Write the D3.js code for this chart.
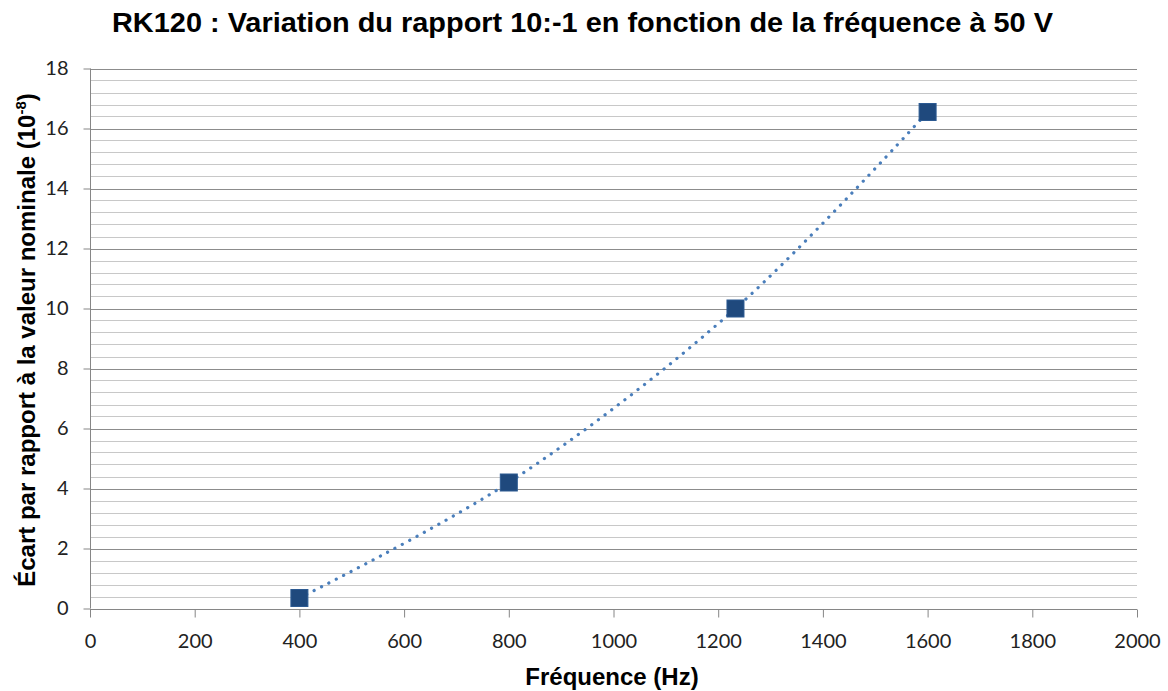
<!DOCTYPE html>
<html><head><meta charset="utf-8">
<script src="https://cdn.jsdelivr.net/npm/d3@7"></script>
<style>body{margin:0;background:#fff}</style>
</head><body>
<svg id="c" width="1168" height="691"></svg>
<script>
const freq = [400, 800, 1233, 1600];
const ecart = [0.35, 4.2, 10.0, 16.55];
const xTicks = [0,200,400,600,800,1000,1200,1400,1600,1800,2000];
const yTicks = [0,2,4,6,8,10,12,14,16,18];
const title = "RK120 : Variation du rapport 10:-1 en fonction de la fréquence à 50 V";
const xTitle = "Fréquence (Hz)";

const svg = d3.select("#c");
const m = {l:90, r:1137, t:68.5, b:608.5};
const x = d3.scaleLinear().domain([0,2000]).range([m.l, m.r]);
const y = d3.scaleLinear().domain([0,18]).range([m.b, m.t]);

// minor grid
const minor = d3.range(0, 18.001, 0.4).filter(v => Math.abs(v/2 - Math.round(v/2)) > 1e-6);
svg.append("g").selectAll("line").data(minor).join("line")
  .attr("x1", m.l).attr("x2", m.r)
  .attr("y1", d => Math.round(y(d))+0.5).attr("y2", d => Math.round(y(d))+0.5)
  .attr("stroke", "#c8c8c8").attr("stroke-width", 1);
// major grid
svg.append("g").selectAll("line").data(yTicks.filter(d=>d>0)).join("line")
  .attr("x1", m.l).attr("x2", m.r)
  .attr("y1", d => Math.round(y(d))+0.5).attr("y2", d => Math.round(y(d))+0.5)
  .attr("stroke", "#8c8c8c").attr("stroke-width", 1);

// axes
const font = "Lato, 'Open Sans', sans-serif";
const xa = svg.append("g").attr("transform", `translate(0,${Math.round(m.b)+0.5})`)
  .call(d3.axisBottom(x).tickValues(xTicks).tickSize(8).tickPadding(16).tickFormat(d3.format("d")));
const ya = svg.append("g").attr("transform", `translate(${m.l+0.5},0)`)
  .call(d3.axisLeft(y).tickValues(yTicks).tickSize(7).tickPadding(15).tickFormat(d3.format("d")));
[xa, ya].forEach(a => {
  a.select(".domain").attr("stroke", "#868686");
  a.selectAll(".tick line").attr("stroke", "#868686");
  a.selectAll(".tick text").attr("fill", "#222").style("font-family", font).style("font-size", "20px");
});
xa.select(".domain").attr("d", `M${m.l},0H${m.r}`);
ya.select(".domain").attr("d", `M0,${m.b}V${m.t}`);

// line
const pts = freq.map((f,i)=>[f, ecart[i]]);
svg.append("path").datum(pts)
  .attr("d", d3.line().x(d=>x(d[0])).y(d=>y(d[1])).curve(d3.curveCatmullRom.alpha(0.5)))
  .attr("fill","none").attr("stroke","#4a7ebb").attr("stroke-width",3.2)
  .attr("stroke-linecap","round").attr("stroke-dasharray","0.1 8.2");

// markers
svg.append("g").selectAll("rect").data(pts).join("rect")
  .attr("x", d=>x(d[0])-8.5).attr("y", d=>y(d[1])-8.5)
  .attr("width",17).attr("height",17)
  .attr("fill","#1f497d").attr("stroke","#2c5a92").attr("stroke-width",1);

// titles
const bold = "'Liberation Sans', Arial, sans-serif";
svg.append("text").attr("x", 112).attr("y", 32)
  .attr("textLength", 941).attr("lengthAdjust","spacingAndGlyphs")
  .style("font-family",bold).style("font-weight","bold").style("font-size","27px")
  .attr("fill","#000").text(title);
svg.append("text").attr("x", 612).attr("y", 685).attr("text-anchor","middle")
  .style("font-family",bold).style("font-weight","bold").style("font-size","24px")
  .attr("fill","#000").text(xTitle);
const yl = svg.append("text").attr("transform","translate(35,340) rotate(-90)").attr("text-anchor","middle")
  .style("font-family",bold).style("font-weight","bold").style("font-size","24px")
  .attr("fill","#000");
yl.append("tspan").text("Écart par rapport à la valeur nominale (10");
yl.append("tspan").attr("dy",-9).style("font-size","15px").text("-8");
yl.append("tspan").attr("dy",9).text(")");
</script>
</body></html>
